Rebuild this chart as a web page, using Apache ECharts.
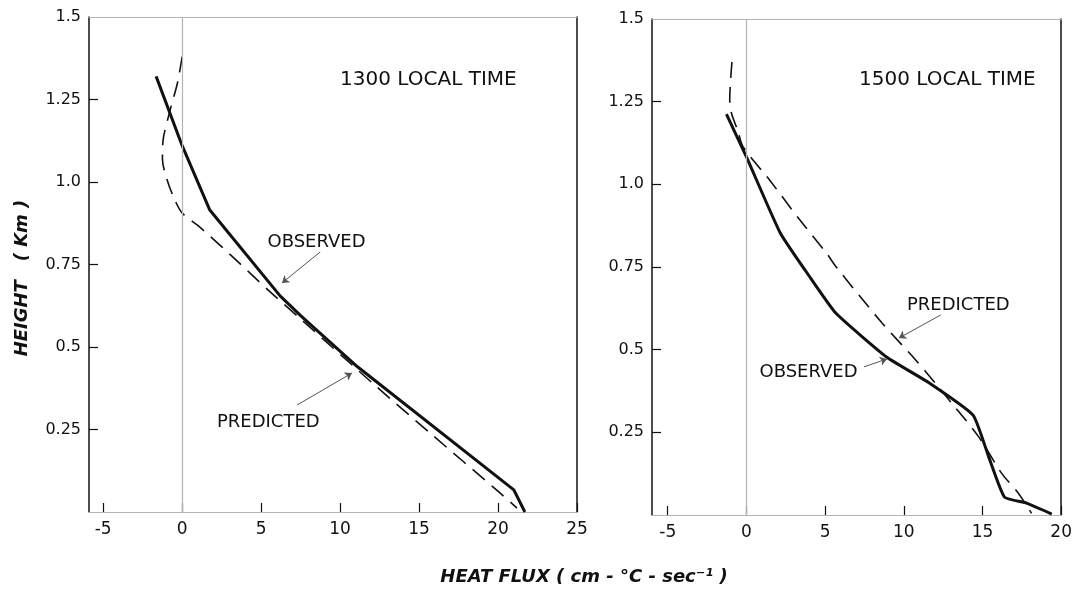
<!DOCTYPE html>
<html>
<head>
<meta charset="utf-8">
<script src="https://cdn.jsdelivr.net/npm/echarts@6/dist/echarts.min.js"></script>
<style>
  html, body { margin: 0; padding: 0; background: #fff; }
  #chart { width: 1075px; height: 591px; }
</style>
</head>
<body>
<div id="chart"></div>
<script>
// ticks
const xTicks1300 = [-5, 0, 5, 10, 15, 20, 25];
const xTicks1500 = [-5, 0, 5, 10, 15, 20];
const yTicks = [0.25, 0.5, 0.75, 1.0, 1.25, 1.5];
const yTickText = ['0.25', '0.5', '0.75', '1.0', '1.25', '1.5'];

// [heat flux, height km]
const observed1300 = [
  [-1.65, 1.32], [0, 1.11], [1.75, 0.915], [6.2, 0.655], [7.5, 0.595],
  [11.1, 0.44], [21.0, 0.067], [21.7, 0]
];
const predicted1300 = [
  [0, 1.38], [-0.3, 1.30], [-0.75, 1.22], [-1.2, 1.13], [-1.25, 1.07],
  [-0.95, 1.006], [-0.55, 0.955], [0, 0.906], [1.1, 0.864], [3.2, 0.773],
  [5.57, 0.667], [7.5, 0.585], [12.3, 0.38], [15.7, 0.239], [19.9, 0.067], [21.2, 0.012]
];
const observed1500 = [
  [-1.27, 1.212], [0, 1.083], [2.15, 0.853], [4.1, 0.715], [5.69, 0.61],
  [8.9, 0.478], [11.6, 0.40], [14.4, 0.302], [15.4, 0.175], [16.4, 0.054],
  [17.8, 0.036], [19.4, 0.003]
];
const predicted1500 = [
  [-0.92, 1.37], [-1.06, 1.255], [-0.95, 1.215], [-0.53, 1.16], [-0.22, 1.114],
  [1.47, 1.013], [3.4, 0.892], [5.1, 0.791], [5.69, 0.751], [8.63, 0.58],
  [10.75, 0.469], [13.05, 0.338], [14.75, 0.237], [16.22, 0.126], [17.28, 0.066], [18.12, 0.005]
];

const ink = '#111';
const faint = '#b4b4b4';
const font = 'DejaVu Sans';

const chart = echarts.init(document.getElementById('chart'));

function xAxes(grid, min, max, ticks) {
  return [
    {
      gridIndex: grid, type: 'value', min, max, position: 'bottom',
      axisLine: { onZero: false, lineStyle: { color: faint, width: 1.2 } },
      axisTick: { inside: true, length: 9, customValues: ticks, lineStyle: { color: ink, width: 1.2 } },
      axisLabel: { customValues: ticks, margin: 9, color: ink, fontFamily: font, fontSize: 17 },
      splitLine: { show: false }
    },
    {
      gridIndex: grid, type: 'value', min, max, position: 'top',
      axisLine: { onZero: false, lineStyle: { color: faint, width: 1.2 } },
      axisTick: { show: false }, axisLabel: { show: false }, splitLine: { show: false }
    }
  ];
}

function yAxes(grid) {
  return [
    {
      gridIndex: grid, type: 'value', min: 0, max: 1.5, position: 'left',
      axisLine: { onZero: false, lineStyle: { color: ink, width: 1.5 } },
      axisTick: { inside: true, length: 9, customValues: yTicks.slice(0, 5), lineStyle: { color: ink, width: 1.2 } },
      axisLabel: {
        customValues: yTicks, margin: 8, color: ink, fontFamily: font, fontSize: 16,
        formatter: (v) => yTickText[yTicks.indexOf(v)] ?? ''
      },
      splitLine: { show: false }
    },
    {
      gridIndex: grid, type: 'value', min: 0, max: 1.5, position: 'right',
      axisLine: { onZero: false, lineStyle: { color: ink, width: 1.5 } },
      axisTick: { show: false }, axisLabel: { show: false }, splitLine: { show: false }
    }
  ];
}

const noteLabel = {
  show: true, position: [0, 0], align: 'left', verticalAlign: 'middle',
  formatter: '{b}', color: ink, fontFamily: font, fontSize: 18
};

function zeroLine() {
  return {
    silent: true, symbol: 'none', animation: false,
    label: { show: false },
    lineStyle: { color: faint, width: 1.2, type: 'solid' },
    data: [{ xAxis: 0 }]
  };
}

function leaders(pairs) {
  return {
    silent: true, symbol: ['none', 'arrow'], symbolSize: 7, animation: false,
    label: { show: false },
    lineStyle: { color: '#555', width: 1, type: 'solid' },
    data: pairs.map(([a, b]) => [{ coord: a }, { coord: b }])
  };
}

function notes(items) {
  return {
    silent: true, symbol: 'circle', symbolSize: 0, animation: false,
    itemStyle: { color: 'rgba(0,0,0,0)' },
    label: noteLabel,
    data: items.map(([name, coord, size]) => ({ name, coord, label: { fontSize: size } }))
  };
}

const solid = { color: ink, width: 3 };
const dashed = { color: ink, width: 1.6, type: [16, 9] };

chart.setOption({
  animation: false,
  backgroundColor: '#fff',
  grid: [
    { left: 89, top: 17, width: 488, height: 495 },
    { left: 652, top: 19, width: 411, height: 496 }
  ],
  xAxis: [...xAxes(0, -5.9, 25, xTicks1300), ...xAxes(1, -6, 20, xTicks1500)],
  yAxis: [...yAxes(0), ...yAxes(1)],
  series: [
    {
      name: 'OBSERVED 1300', type: 'line', xAxisIndex: 0, yAxisIndex: 0,
      data: observed1300, showSymbol: false, lineStyle: solid, itemStyle: { color: ink },
      markLine: zeroLine(),
      markPoint: notes([['1300 LOCAL TIME', [10.0, 1.31], 20], ['OBSERVED', [5.4, 0.818], 18]])
    },
    {
      name: 'PREDICTED 1300', type: 'line', xAxisIndex: 0, yAxisIndex: 0,
      data: predicted1300, showSymbol: false, smooth: 0.3, lineStyle: dashed, itemStyle: { color: ink },
      markLine: leaders([[[8.74, 0.788], [6.32, 0.694]], [[7.27, 0.324], [10.75, 0.421]]]),
      markPoint: notes([['PREDICTED', [2.2, 0.273], 18]])
    },
    {
      name: 'OBSERVED 1500', type: 'line', xAxisIndex: 2, yAxisIndex: 2,
      data: observed1500, showSymbol: false, smooth: 0.15, lineStyle: solid, itemStyle: { color: ink },
      markLine: zeroLine(),
      markPoint: notes([['1500 LOCAL TIME', [7.16, 1.315], 20], ['OBSERVED', [0.83, 0.432], 18]])
    },
    {
      name: 'PREDICTED 1500', type: 'line', xAxisIndex: 2, yAxisIndex: 2,
      data: predicted1500, showSymbol: false, smooth: 0.3, lineStyle: dashed, itemStyle: { color: ink },
      markLine: leaders([[[12.35, 0.605], [9.69, 0.535]], [[7.47, 0.448], [8.93, 0.472]]]),
      markPoint: notes([['PREDICTED', [10.2, 0.635], 18]])
    }
  ],
  graphic: [
    {
      type: 'text', x: 22, y: 278, rotation: Math.PI / 2,
      style: {
        text: 'HEIGHT   ( Km )', fill: ink, font: 'italic bold 18px "DejaVu Sans"',
        align: 'center', verticalAlign: 'middle'
      }
    },
    {
      type: 'text', x: 584, y: 577,
      style: {
        text: 'HEAT FLUX ( cm - °C - sec⁻¹ )', fill: ink, font: 'italic bold 18px "DejaVu Sans"',
        align: 'center', verticalAlign: 'middle'
      }
    }
  ]
});
</script>
</body>
</html>
